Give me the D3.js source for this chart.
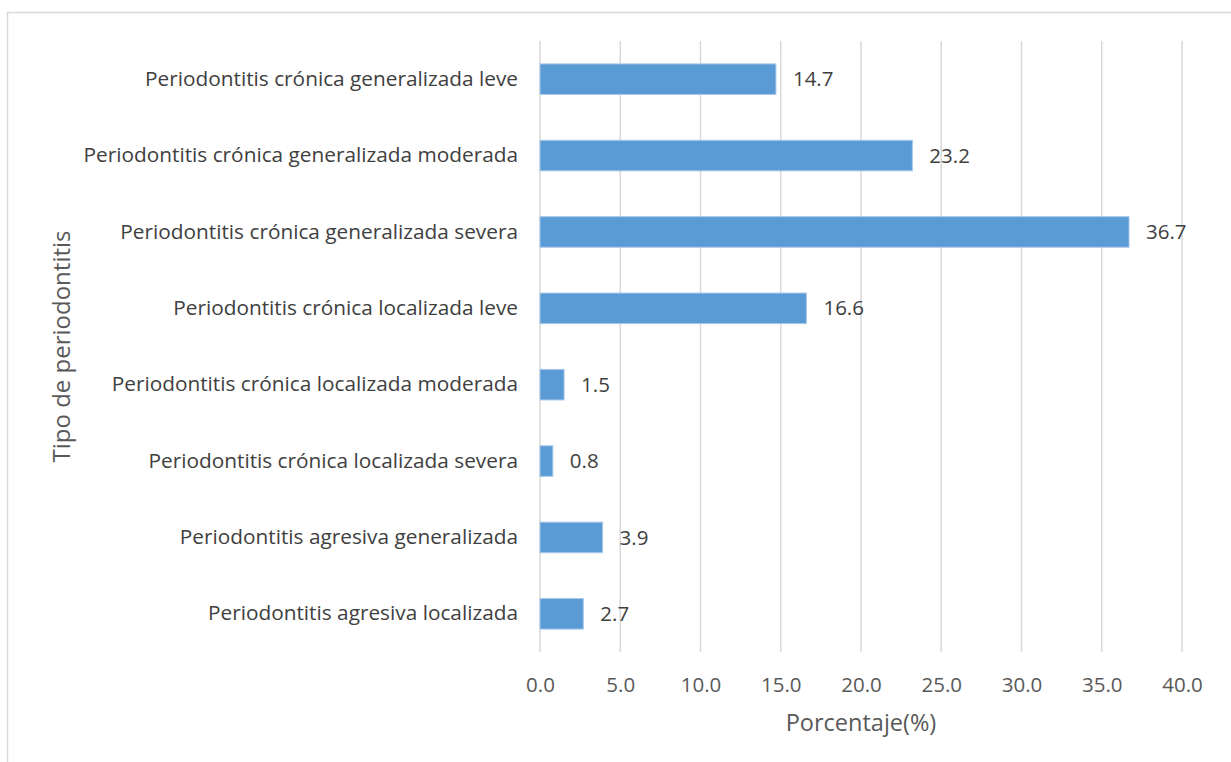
<!DOCTYPE html>
<html>
<head>
<meta charset="utf-8">
<script src="https://cdn.jsdelivr.net/npm/d3@7"></script>
<style>
  html, body { margin: 0; padding: 0; background: #fff; }
  svg { display: block; font-family: "Open Sans", "Noto Sans", sans-serif; }
</style>
</head>
<body>
<svg id="chart" width="1231" height="762"></svg>
<script>
const categories = [
  "Periodontitis crónica generalizada leve",
  "Periodontitis crónica generalizada moderada",
  "Periodontitis crónica generalizada severa",
  "Periodontitis crónica localizada leve",
  "Periodontitis crónica localizada moderada",
  "Periodontitis crónica localizada severa",
  "Periodontitis agresiva generalizada",
  "Periodontitis agresiva localizada"
];
const percentages = [14.7, 23.2, 36.7, 16.6, 1.5, 0.8, 3.9, 2.7];
const xTicks = [0, 5, 10, 15, 20, 25, 30, 35, 40];
const xTitle = "Porcentaje(%)";
const yTitle = "Tipo de periodontitis";

const svg = d3.select("#chart");
const plot = { left: 540, right: 1182, top: 41, bottom: 652 };

// frame of the chart area
svg.append("path")
  .attr("d", "M7.5,762 V12.5 H1231")
  .attr("fill", "none")
  .attr("stroke", "#d9d9d9")
  .attr("stroke-width", 1.5);

const x = d3.scaleLinear().domain([0, 40]).range([plot.left, plot.right]);
const y = d3.scaleBand().domain(categories).range([plot.top, plot.bottom]).paddingInner(0.6).paddingOuter(0.3);

// vertical gridlines
svg.append("g")
  .selectAll("line")
  .data(xTicks)
  .join("line")
  .attr("x1", d => x(d)).attr("x2", d => x(d))
  .attr("y1", plot.top).attr("y2", plot.bottom)
  .attr("stroke", "#d9d9d9")
  .attr("stroke-width", 1.5);

// x axis tick labels
const xAxis = d3.axisBottom(x).tickValues(xTicks).tickFormat(d3.format(".1f")).tickSize(0).tickPadding(0);
const gx = svg.append("g").attr("transform", `translate(0,${plot.bottom + 40})`).call(xAxis);
gx.select(".domain").remove();
gx.selectAll("text")
  .attr("dy", 0)
  .attr("font-size", 20.5)
  .attr("font-family", "'Open Sans', sans-serif")
  .attr("fill", "#595959");

// category labels
const yAxis = d3.axisLeft(y).tickSize(0).tickPadding(22);
const gy = svg.append("g").attr("transform", `translate(${plot.left},0)`).call(yAxis);
gy.select(".domain").remove();
gy.selectAll("text")
  .attr("font-size", 20.8)
  .attr("font-family", "'Open Sans', sans-serif")
  .attr("fill", "#404040");

// bars
svg.append("g")
  .selectAll("rect")
  .data(categories)
  .join("rect")
  .attr("x", x(0))
  .attr("y", d => y(d))
  .attr("width", (d, i) => x(percentages[i]) - x(0))
  .attr("height", y.bandwidth())
  .attr("fill", "#5b9bd5")
  .attr("stroke", "#a9c8e8")
  .attr("stroke-width", 1);

// value labels
svg.append("g")
  .selectAll("text")
  .data(categories)
  .join("text")
  .attr("x", (d, i) => x(percentages[i]) + 17)
  .attr("y", d => y(d) + y.bandwidth() / 2)
  .attr("dy", "0.35em")
  .attr("font-size", 20.5)
  .attr("fill", "#404040")
  .text((d, i) => percentages[i].toFixed(1));

// axis titles
svg.append("text")
  .attr("x", (plot.left + plot.right) / 2)
  .attr("y", 731)
  .attr("text-anchor", "middle")
  .attr("font-size", 23.5)
  .attr("fill", "#595959")
  .text(xTitle);

svg.append("text")
  .attr("transform", `translate(70,${(plot.top + plot.bottom) / 2}) rotate(-90)`)
  .attr("text-anchor", "middle")
  .attr("font-size", 24)
  .attr("fill", "#595959")
  .text(yTitle);
</script>
</body>
</html>
